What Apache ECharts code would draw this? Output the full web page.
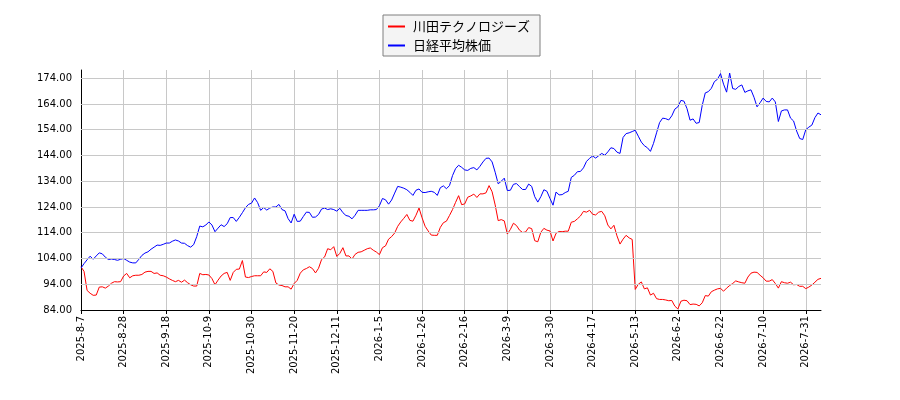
<!DOCTYPE html>
<html>
<head>
<meta charset="utf-8">
<script src="https://cdn.jsdelivr.net/npm/echarts@6/dist/echarts.min.js"></script>
<style>
  html, body { margin: 0; padding: 0; background: #fff; }
  #main { width: 900px; height: 400px; }
</style>
</head>
<body>
<div id="main"></div>
<script>
// Tokyo exchange trading days: weekdays minus these holidays
const startDate = '2025-08-07';
const dayCount = 244;
const holidays = [
  '2025-08-11', '2025-09-15', '2025-09-23', '2025-10-13', '2025-11-03', '2025-11-24',
  '2025-12-31', '2026-01-01', '2026-01-02', '2026-01-12', '2026-02-11', '2026-02-23',
  '2026-03-20', '2026-04-29', '2026-05-04', '2026-05-05', '2026-05-06', '2026-07-20'
];

const seriesNames = ['川田テクノロジーズ', '日経平均株価'];

const kawadaValues = [
  100.8, 99.0, 91.6, 90.5, 89.7, 89.8, 92.9, 93.0, 92.5, 93.3,
  94.4, 95.0, 94.9, 95.0, 97.2, 98.2, 96.5, 97.3, 97.5, 97.5,
  97.8, 98.7, 99.0, 99.0, 98.2, 98.4, 97.5, 97.3, 96.8, 96.1,
  95.5, 95.0, 95.5, 94.8, 95.6, 94.6, 93.8, 93.3, 93.3, 98.2,
  97.7, 97.8, 97.6, 96.2, 93.8, 95.6, 97.2, 98.2, 98.6, 95.5,
  98.6, 99.8, 99.9, 103.2, 96.8, 96.6, 97.0, 97.3, 97.3, 97.3,
  98.8, 98.6, 100.0, 99.0, 94.5, 93.7, 93.5, 93.0, 93.0, 92.1,
  94.3, 95.5, 98.3, 99.6, 100.1, 100.8, 100.1, 98.4, 100.2, 103.6,
  104.6, 107.8, 107.4, 108.6, 104.8, 106.0, 108.2, 105.0, 105.0, 103.8,
  105.6, 106.4, 106.6, 107.2, 107.8, 108.1, 107.2, 106.5, 105.5,
  108.2, 108.9, 111.5, 112.5, 113.9, 116.5, 118.2, 119.6, 121.1, 118.8,
  118.5, 120.8, 123.6, 119.8, 116.5, 114.7, 113.1, 113.0, 113.0, 116.1,
  117.9, 118.5, 120.7, 123.0, 125.8, 128.4, 124.9, 125.2, 127.8, 128.3,
  129.0, 127.7, 129.1, 129.1, 129.5, 132.3, 129.9, 124.8, 118.7, 119.1,
  118.6, 113.5, 115.3, 117.7, 116.8, 115.0, 114.1, 114.3, 116.0, 115.6,
  110.9, 110.5, 114.2, 115.7, 115.0, 114.7, 110.8, 113.8, 114.5, 114.4,
  114.6, 114.6, 118.1, 118.4, 119.4, 120.5, 122.3, 122.0, 122.7, 121.2,
  120.9, 122.0, 122.3, 120.6, 117.0, 115.5, 116.9, 112.8, 109.6,
  111.5, 113.0, 112.0, 111.4,
  92.0, 94.0, 94.9, 92.2, 92.6, 89.8, 90.5, 88.4, 88.1, 88.1,
  87.9, 87.6, 87.7, 85.5, 84.4, 87.4, 87.8, 87.6, 86.1, 86.3,
  86.2, 85.6, 86.8, 89.6, 89.4, 91.1, 91.7, 92.2, 92.4, 91.3,
  92.5, 93.5, 94.3, 95.3, 94.9, 94.6, 94.4, 96.8, 98.3, 98.7,
  98.6, 97.5, 96.5, 95.2, 95.2, 95.8, 94.3, 92.5, 95.0, 94.6,
  94.4, 94.8, 93.8, 93.9, 93.2, 93.2, 92.3, 92.9, 93.7, 94.8,
  95.9, 96.3
];

const nikkeiValues = [
  100.3, 102.0, 103.5, 104.9, 103.7, 105.0, 106.2, 105.8, 104.5, 103.6,
  103.8, 103.6, 103.3, 103.7, 104.0, 103.3, 102.6, 102.3, 102.3, 103.7,
  105.2, 106.1, 106.6, 107.6, 108.4, 109.2, 109.1, 109.5, 110.0, 110.0,
  110.7, 111.2, 110.8, 110.0, 109.9, 109.0, 108.4, 109.4, 112.5, 116.6,
  116.3, 117.0, 118.2, 117.0, 114.4, 115.8, 117.1, 116.4, 117.5, 119.9,
  119.9, 118.4, 120.0, 121.8, 123.7, 125.0, 125.5, 127.5, 125.7, 122.7,
  123.8, 122.8, 123.6, 124.0, 124.0, 125.0, 123.0, 122.5, 119.5, 117.8,
  121.2, 118.4, 118.5, 120.3, 122.0, 121.9, 120.0, 120.1, 121.1, 123.2,
  123.6, 123.0, 123.3, 123.0, 122.4, 123.5, 121.8, 120.7, 120.4, 119.4,
  120.8, 122.7, 122.7, 122.7, 122.7, 122.9, 122.9, 123.0, 124.5,
  127.3, 126.8, 125.1, 126.7, 129.4, 132.0, 131.7, 131.3, 130.7, 129.7,
  128.5, 130.5, 131.0, 129.7, 129.6, 129.9, 130.1, 129.7, 128.5, 131.5,
  132.2, 131.1, 132.3, 136.2, 138.9, 140.2, 139.4, 138.4, 138.2, 139.0,
  139.3, 138.4, 139.8, 141.5, 142.9, 143.0, 141.5, 137.5, 133.0, 134.0,
  135.2, 130.4, 130.5, 132.8, 133.1, 131.9, 130.8, 130.8, 132.9, 132.0,
  128.0, 125.9, 128.0, 130.7, 130.1, 127.3, 124.7, 129.8, 128.7, 128.8,
  129.6, 130.1, 135.5, 136.3, 137.7, 137.8, 139.2, 141.7, 142.9, 143.8,
  143.0, 143.9, 144.8, 144.1, 145.4, 147.0, 146.7, 145.3, 144.8,
  151.0, 152.5, 152.8, 153.3,
  153.8, 151.5, 149.2, 147.8, 147.0, 145.6, 148.7, 152.8, 156.8, 158.5,
  158.3, 157.8, 159.4, 162.0, 162.9, 165.4, 165.1, 162.2, 157.7, 158.2,
  156.5, 156.8, 163.5, 168.3, 168.8, 170.1, 172.7, 173.6, 175.8, 171.7,
  168.6, 176.0, 170.0, 169.7, 170.8, 171.4, 168.5, 169.1, 169.5, 166.6,
  162.9, 164.5, 166.3, 165.0, 164.8, 166.3, 164.8, 157.2, 161.3, 161.7,
  161.7, 158.5, 157.4, 153.5, 150.6, 150.2, 154.0, 155.0, 155.8, 158.7,
  160.5, 159.8
];

const yTicks = [84, 94, 104, 114, 124, 134, 144, 154, 164, 174];

function buildDays(start, count) {
  const out = [];
  const d = new Date(start + 'T00:00:00Z');
  while (out.length < count) {
    const wd = d.getUTCDay();
    const iso = d.toISOString().slice(0, 10);
    if (wd !== 0 && wd !== 6 && holidays.indexOf(iso) < 0) {
      out.push(d.getUTCFullYear() + '-' + (d.getUTCMonth() + 1) + '-' + d.getUTCDate());
    }
    d.setUTCDate(d.getUTCDate() + 1);
  }
  return out;
}

const days = buildDays(startDate, dayCount);
const lastIdx = days.length - 1;

var chart = echarts.init(document.getElementById('main'));

var option = {
  animation: false,
  backgroundColor: '#ffffff',
  grid: { left: 81, right: 79, top: 70, bottom: 90 },
  legend: {
    data: [
      { name: seriesNames[0], icon: 'rect' },
      { name: seriesNames[1], icon: 'rect' }
    ],
    orient: 'vertical',
    left: 383,
    top: 15,
    padding: [5, 10, 4, 5],
    itemWidth: 17,
    itemHeight: 2,
    itemGap: 6,
    backgroundColor: '#f4f4f4',
    borderColor: '#7f7f7f',
    borderWidth: 1,
    textStyle: {
      fontFamily: 'Noto Sans CJK JP',
      fontSize: 13,
      lineHeight: 13,
      color: '#000',
      padding: [0, 0, 0, 3]
    }
  },
  xAxis: {
    type: 'category',
    data: days,
    boundaryGap: false,
    axisLine: { lineStyle: { color: '#000', width: 1 } },
    axisTick: { interval: 13, length: 4, lineStyle: { color: '#000' } },
    axisLabel: {
      interval: 13,
      rotate: 90,
      margin: 6,
      fontFamily: 'DejaVu Sans',
      fontSize: 10,
      color: '#000'
    },
    splitLine: { show: true, interval: 13, lineStyle: { color: '#c8c8c8', width: 1 } }
  },
  yAxis: {
    type: 'value',
    min: 84,
    max: 177.2,
    axisLine: { show: true, lineStyle: { color: '#000', width: 1 } },
    axisTick: { show: true, inside: true, length: 4, customValues: yTicks, lineStyle: { color: '#000' } },
    axisLabel: {
      customValues: yTicks,
      margin: 9,
      fontFamily: 'DejaVu Sans',
      fontSize: 10,
      color: '#000',
      formatter: function (v) { return v.toFixed(2); }
    },
    splitLine: { show: false }
  },
  series: [
    {
      name: 'grid',
      type: 'line',
      data: [],
      silent: true,
      z: 0,
      markLine: {
        silent: true,
        symbol: 'none',
        animation: false,
        label: { show: false },
        lineStyle: { color: '#c8c8c8', width: 1, type: 'solid' },
        emphasis: { disabled: true },
        data: yTicks.slice(1).map(function (v) {
          return [{ xAxis: 0, yAxis: v }, { xAxis: lastIdx, yAxis: v }];
        })
      }
    },
    {
      name: seriesNames[0],
      type: 'line',
      data: kawadaValues,
      showSymbol: false,
      symbol: 'none',
      z: 3,
      lineStyle: { color: '#ff0000', width: 1 },
      itemStyle: { color: '#ff0000' }
    },
    {
      name: seriesNames[1],
      type: 'line',
      data: nikkeiValues,
      showSymbol: false,
      symbol: 'none',
      z: 3,
      lineStyle: { color: '#0000ff', width: 1 },
      itemStyle: { color: '#0000ff' }
    }
  ]
};

chart.setOption(option);
</script>
</body>
</html>
